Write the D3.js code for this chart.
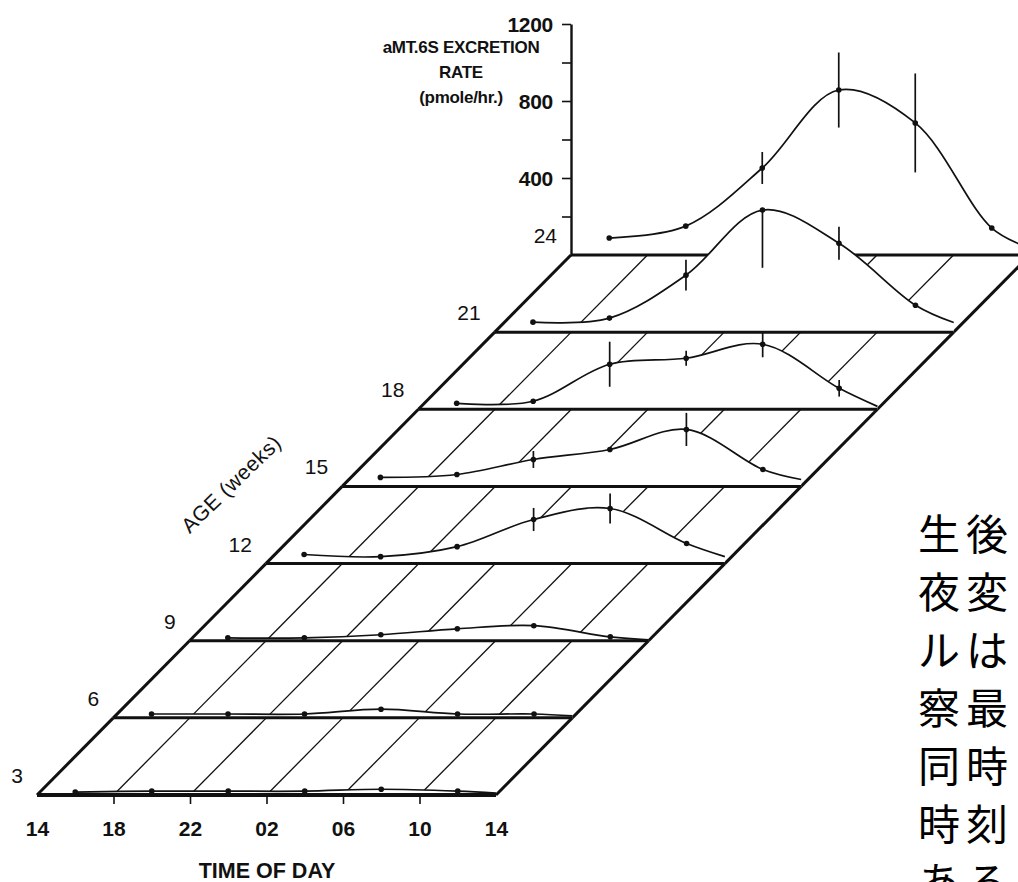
<!DOCTYPE html>
<html><head><meta charset="utf-8">
<script src="https://cdn.jsdelivr.net/npm/d3@7/dist/d3.min.js"></script>
<style>body{margin:0;background:#fff;} svg{display:block;}</style>
</head><body>
<svg id="c" width="1018" height="882"></svg>
<script>
// ---- data ----
const ages = [3, 6, 9, 12, 15, 18, 21, 24];
const sampleHours = [16, 20, 24, 28, 32, 36];   // 16,20,00,04,08,12 h
const endHour = 38;                              // 14 h next day
const tickHours = [14, 18, 22, 26, 30, 34, 38];
const tickLabels = ["14", "18", "22", "02", "06", "10", "14"];
const yTickValues = [200, 400, 600, 800, 1000, 1200];
const yTickLabels = ["", "400", "", "800", "", "1200"];

const rate3  = [15, 20, 20, 20, 30, 20];
const rate6  = [20, 20, 20, 45, 20, 20];
const rate9  = [15, 15, 31, 62, 78, 20];
const rate12 = [47, 36, 88, 229, 286, 104];
const rate15 = [47, 62, 140, 192, 296, 88];
const rate18 = [31, 42, 234, 265, 338, 109];
const rate21 = [52, 73, 296, 634, 462, 140];
const rate24 = [88, 150, 452, 857, 686, 140];
const endRates = [10, 10, 5, 36, 36, 15, 50, 35];

const errUp3  = [0, 0, 0, 0, 0, 0];
const errUp6  = [0, 0, 0, 0, 0, 0];
const errUp9  = [0, 0, 0, 0, 0, 0];
const errUp12 = [0, 0, 0, 60, 78, 0];
const errUp15 = [0, 0, 44, 0, 86, 0];
const errUp18 = [0, 0, 117, 39, 68, 43];
const errUp21 = [0, 0, 80, 0, 86, 0];
const errUp24 = [0, 0, 83, 195, 257, 0];
const errDn21 = [0, 0, 80, 300, 86, 0];

const rates = [rate3, rate6, rate9, rate12, rate15, rate18, rate21, rate24];
const errUps = [errUp3, errUp6, errUp9, errUp12, errUp15, errUp18, errUp21, errUp24];
const errDns = [errUp3, errUp6, errUp9, errUp12, errUp15, errUp18, errDn21, errUp24];

const jpLines = ["生後", "夜変", "ルは", "察最", "同時", "時刻", "ある"];

// ---- scales ----
const svg = d3.select("#c");
const tx = d3.scaleLinear().domain([14, 38]).range([0, 459]);
const ax = d3.scaleLinear().domain([3, 24]).range([37, 571]);
const ay = d3.scaleLinear().domain([3, 24]).range([795, 255]);
const vy = d3.scaleLinear().domain([0, 1200]).range([0, 231]);
const px = (a, h) => ax(a) + tx(h);
const py = (a, v) => ay(a) - vy(v);

const FONT = "'Liberation Sans', Arial, Helvetica, sans-serif";
const ink = "#111";

// ---- y axis (behind the back row) ----
const yScale = d3.scaleLinear().domain([0, 1200]).range([ay(24), ay(24) - vy(1200)]);
const yAxis = d3.axisLeft(yScale).tickValues(yTickValues)
  .tickFormat((d, i) => yTickLabels[i]).tickSize(9).tickSizeOuter(0).tickPadding(9);
const gy = svg.append("g").attr("transform", `translate(${ax(24)},0)`).call(yAxis);
gy.select(".domain").attr("stroke", ink).attr("stroke-width", 2.4);
gy.selectAll(".tick line").attr("stroke", ink).attr("stroke-width", 1.6);
gy.selectAll(".tick text").attr("font-family", FONT).attr("font-size", 21)
  .attr("font-weight", "bold").attr("fill", ink).attr("letter-spacing", "-0.3").attr("dy", "0.36em");

// ---- rows from back to front (hidden-line removal with white fills) ----
const curve = d3.curveCatmullRom.alpha(0.5);
for (let i = ages.length - 1; i >= 0; i--) {
  const a = ages[i];
  const pts = sampleHours.map((h, j) => [px(a, h), py(a, rates[i][j])]);
  const all = pts.concat([[px(a, endHour), py(a, endRates[i])]]);
  const g = svg.append("g");
  g.append("path").datum(all)
    .attr("d", d3.area().x(d => d[0]).y0(ay(a)).y1(d => d[1]).curve(curve))
    .attr("fill", "#fff").attr("stroke", "none");
  g.append("path").datum(all)
    .attr("d", d3.line().x(d => d[0]).y(d => d[1]).curve(curve))
    .attr("fill", "none").attr("stroke", ink).attr("stroke-width", 1.7);
  sampleHours.forEach((h, j) => {
    const up = errUps[i][j], dn = errDns[i][j];
    if (up > 0 || dn > 0) {
      g.append("line")
        .attr("x1", px(a, h)).attr("x2", px(a, h))
        .attr("y1", py(a, rates[i][j] + up)).attr("y2", py(a, rates[i][j] - dn))
        .attr("stroke", ink).attr("stroke-width", 1.7);
    }
  });
  g.selectAll("circle").data(pts).join("circle")
    .attr("cx", d => d[0]).attr("cy", d => d[1]).attr("r", 2.8).attr("fill", ink);
  // baseline of this row
  g.append("line")
    .attr("x1", px(a, 14)).attr("x2", px(a, 38)).attr("y1", ay(a)).attr("y2", ay(a))
    .attr("stroke", ink).attr("stroke-width", a === 3 ? 3.8 : 3);
  // age label
  g.append("text").attr("x", ax(a) - 14).attr("y", ay(a) - 12)
    .attr("text-anchor", "end").attr("font-family", FONT).attr("font-size", 21)
    .attr("fill", ink).text(a);
  // floor band between this row and the one in front of it
  if (i > 0) {
    const b = ages[i - 1];
    tickHours.forEach((h, k) => {
      const edge = (k === 0 || k === tickHours.length - 1);
      g.append("line")
        .attr("x1", px(b, h)).attr("y1", ay(b))
        .attr("x2", px(a, h)).attr("y2", ay(a))
        .attr("stroke", ink).attr("stroke-width", edge ? 3 : 1.3);
    });
  }
}

// ---- time axis ----
const xScale = d3.scaleLinear().domain([14, 38]).range([px(3, 14), px(3, 38)]);
const xAxis = d3.axisBottom(xScale).tickValues(tickHours)
  .tickFormat((d, i) => tickLabels[i]).tickSize(9).tickSizeOuter(0).tickPadding(17);
const gx = svg.append("g").attr("transform", `translate(0,${ay(3)})`).call(xAxis);
gx.select(".domain").remove();
gx.selectAll(".tick line").attr("stroke", ink).attr("stroke-width", 1.6)
  .attr("opacity", (d, i) => (i === 0 || i === tickHours.length - 1) ? 0 : 1);
gx.selectAll(".tick text").attr("font-family", FONT).attr("font-size", 21)
  .attr("font-weight", "bold").attr("fill", ink);

svg.append("text").attr("x", 267).attr("y", 878).attr("text-anchor", "middle")
  .attr("font-family", FONT).attr("font-size", 21.5).attr("font-weight", "bold")
  .attr("letter-spacing", "0").attr("fill", ink).text("TIME OF DAY");

// ---- y title ----
const yTitle = ["aMT.6S EXCRETION", "RATE", "(pmole/hr.)"];
svg.append("g").selectAll("text").data(yTitle).join("text")
  .attr("x", 461).attr("y", (d, i) => 53 + i * 25).attr("text-anchor", "middle")
  .attr("font-family", FONT).attr("font-size", 17).attr("font-weight", "bold")
  .attr("letter-spacing", "-0.3").attr("fill", ink).text(d => d);

// ---- age axis title ----
svg.append("text").attr("transform", "translate(231,484) rotate(-44)")
  .attr("text-anchor", "middle").attr("font-family", FONT).attr("font-size", 21)
  .attr("letter-spacing", "0.5").attr("fill", ink).attr("dy", "0.35em").text("AGE (weeks)");

// ---- Japanese text block (runs off the right edge) ----
svg.append("g").selectAll("text").data(jpLines).join("text")
  .attr("x", 918).attr("y", (d, i) => 550 + i * 58)
  .attr("font-family", "'Noto Sans CJK JP', sans-serif").attr("font-size", 42)
  .attr("letter-spacing", "6").attr("fill", "#000").text(d => d);
</script>
</body></html>
